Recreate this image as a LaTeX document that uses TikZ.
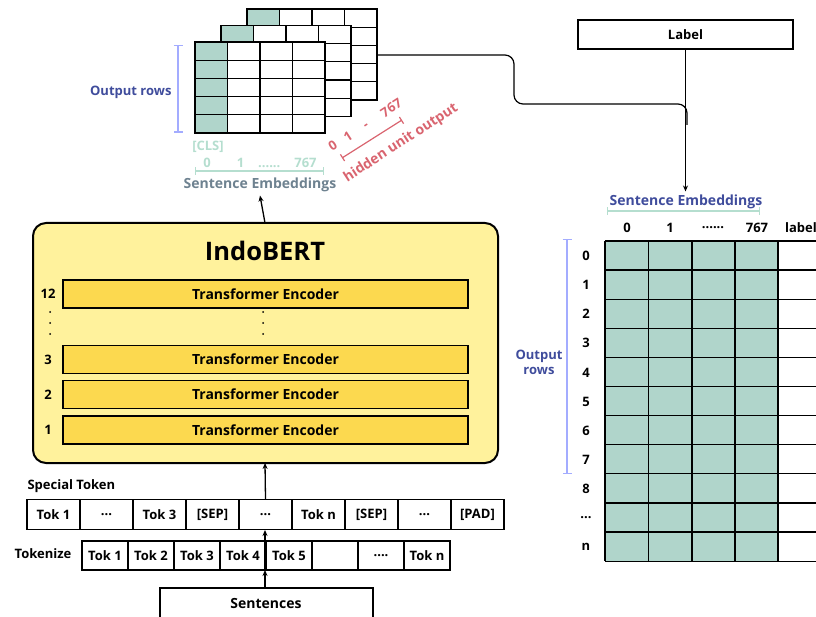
\documentclass[tikz,border=0pt]{standalone}
\usepackage{fontspec}
\setmainfont{Open Sans}
\usetikzlibrary{arrows.meta,positioning}

\definecolor{embteal}{HTML}{B0D5CB}
\definecolor{braceteal}{HTML}{B5DECF}
\definecolor{bertfill}{HTML}{FFF29C}
\definecolor{encfill}{HTML}{FCD94F}
\definecolor{rowblue}{HTML}{A3ACFF}
\definecolor{textblue}{HTML}{3F4C9C}
\definecolor{embgray}{HTML}{6E8290}
\definecolor{hidred}{HTML}{D9646F}

\newcommand{\tkdots}{...}
\newcommand{\tkfour}{....}
\newcommand{\tksix}{......}

\tikzset{
    txt/.style={font=\bfseries\fontsize{13}{15}\selectfont},
    bigtxt/.style={font=\bfseries\fontsize{14}{16}\selectfont},
    line/.style={line width=1.2pt},
    tokcell/.style={draw, line, minimum width=53pt, minimum height=30pt, inner sep=0pt, txt},
    tokcellB/.style={draw, line, minimum width=46pt, minimum height=29pt, inner sep=0pt, txt},
    encoder/.style={draw, line width=1.8pt, fill=encfill, minimum width=405pt, minimum height=28pt, inner sep=0pt, bigtxt},
    tip/.style={-{Stealth[length=6pt,width=5pt]}, line width=1.3pt},
    bracket/.style={|-|, line width=1.5pt}
}

\begin{document}
\begin{tikzpicture}[x=1pt, y=-1pt]
    \useasboundingbox (0,0) rectangle (816,617);

    % stack of output rows, back to front
    \foreach \l in {2,1,0} {
        \begin{scope}[shift={(26*\l,-16.5*\l)}]
            \fill[white] (195,42) rectangle (325,133);
            \fill[embteal] (195,42) rectangle (227.5,133);
            \foreach \i in {0,1,2,3,4} \draw[line] (195+32.5*\i,42) -- (195+32.5*\i,133);
            \foreach \j in {0,1,2,3,4} \draw[line] (195,42+18.2*\j) -- (325,42+18.2*\j);
            \draw[line] (195,42) rectangle (325,133);
        \end{scope}
    }
    \coordinate (stackout) at (377,55);

    \draw[rowblue, bracket] (178,45) -- (178,133);
    \node[txt, text=textblue, anchor=east] (rowsL) at (175,92) {Output rows};

    \node[txt, text=braceteal] (cls) at (208,147) {[CLS]};
    \node[txt, text=braceteal] (colsL) at (260,163) {0\hspace{26pt}1\hspace{14pt}\tksix\hspace{14pt}767};
    \draw[braceteal, |-|, line] (195,171) -- (324,171);
    \node[bigtxt, text=embgray] (embL) at (260,185) {Sentence Embeddings};

    % hidden unit output
    \node[txt, text=hidred, rotate=33, inner sep=1pt] (hidcols) at (365,125) {0\hspace{10.7pt}1\hspace{15pt}-\hspace{17.5pt}767};
    \draw[hidred, |-|, line] (342,158) -- (402,120);
    \node[bigtxt, text=hidred, rotate=33, inner sep=1pt] (hidden) at (401,143) {hidden unit output};

    % IndoBERT block
    \draw[line width=2pt, fill=bertfill, rounded corners=13pt] (33,223) rectangle (498,463);
    \node[font=\bfseries\fontsize{25.5}{28}\selectfont] (bert) at (265,251) {IndoBERT};
    \node[encoder] (enc12) at (265.5,294) {Transformer Encoder};
    \node[encoder] (enc3) at (265.5,359.5) {Transformer Encoder};
    \node[encoder] (enc2) at (265.5,394.5) {Transformer Encoder};
    \node[encoder] (enc1) at (265.5,430) {Transformer Encoder};
    \node[txt] at (enc12.west -| 48,0) {12};
    \node[txt] at (enc3.west -| 48,0) {3};
    \node[txt] at (enc2.west -| 48,0) {2};
    \node[txt] at (enc1.west -| 48,0) {1};
    \foreach \y in {312,323,334} {
        \fill (50,\y) circle (1pt);
        \fill (263,\y) circle (1pt);
    }
    \coordinate (berttop) at (265,223);
    \coordinate (bertbot) at (265,463);
    \draw[tip] (berttop) -- (embL.south);

    % special tokens
    \node[txt, anchor=west] (specL) at (24,486) {Special Token};
    \node[tokcell] (s1) at (53.5,514.5) {Tok 1};
    \foreach \t [count=\k from 2] in {\tkdots,Tok 3,[SEP],\tkdots,Tok n,[SEP],\tkdots,[PAD]} {
        \pgfmathtruncatemacro{\p}{\k-1}
        \node[tokcell, right=-1.2pt of s\p] (s\k) {\t};
    }
    \draw[tip] (s5.north) -- (bertbot);

    % tokenize
    \node[txt] (tokL) at (43,554) {Tokenize};
    \node[tokcellB] (t1) at (105,555.5) {Tok 1};
    \foreach \t [count=\k from 2] in {Tok 2,Tok 3,Tok 4,Tok 5,{},\tkfour,Tok n} {
        \pgfmathtruncatemacro{\p}{\k-1}
        \node[tokcellB, right=-1.2pt of t\p] (t\k) {\t};
    }
    \coordinate (tokmid) at (265,570);
    \draw[tip] (265,541) -- (265,530);
    \draw[line] (265,541) -- (tokmid);

    % sentences
    \node[draw, line, minimum width=213pt, minimum height=34pt] (sent) at (266.5,605) {};
    \node[bigtxt] at (266,603) {Sentences};
    \draw[tip] (sent.north -| tokmid) -- (tokmid);

    % label box
    \node[draw, line, minimum width=215pt, minimum height=29pt, txt] (label) at (685.5,34.5) {Label};

    % right table
    \node[bigtxt, text=textblue] (embR) at (686,202) {Sentence Embeddings};
    \draw[braceteal, |-|, line] (607,211) -- (760,211);
    \foreach \c/\x in {0/627,1/670,\tksix/713,767/757,label/801}
        \node[txt] at (\x,228) {\c};
    \fill[embteal] (605,241) rectangle (778,561);
    \foreach \x in {605,648.5,692,735,778} \draw[line] (\x,241) -- (\x,561);
    \foreach \j in {0,1,2,3,4,5,6,7,8,9,10,11} \draw[line] (605,241+29.1*\j) -- (822,241+29.1*\j);
    \draw[line] (822,241) -- (822,561);
    \foreach \r [count=\k from 0] in {0,1,2,3,4,5,6,7,8,\tkdots,n}
        \node[txt] at (586,256+29.1*\k) {\r};
    \draw[rowblue, bracket] (567,239) -- (567,474);
    \node[txt, text=textblue, align=center] (rowsR) at (539,362) {Output\\rows};

    % connectors to the table
    \draw[line, rounded corners=9pt] (stackout) -- (514,55) -- (514,104) -- (687,104) -- (687,125);
    \draw[tip] (label.south) -- (embR.north -| label.south);
\end{tikzpicture}
\end{document}
